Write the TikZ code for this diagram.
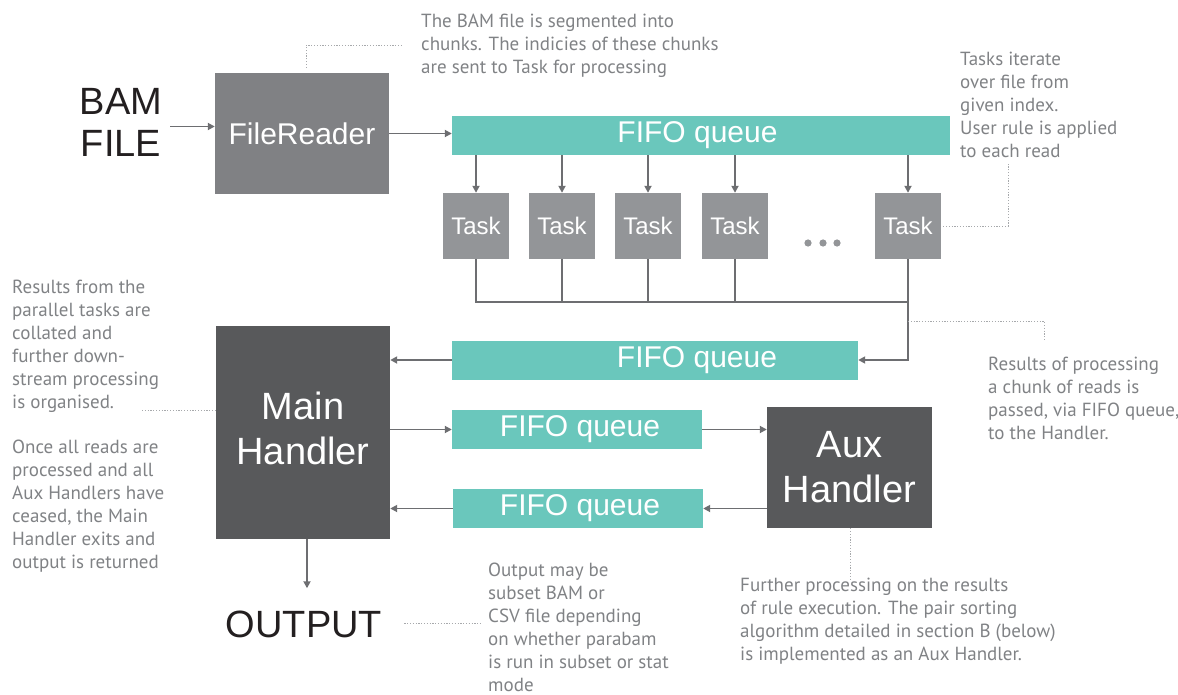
\documentclass[tikz,border=0pt]{standalone}
\usepackage{fontspec}
\usetikzlibrary{arrows.meta}
\newfontfamily\labelfont{Liberation Sans}
\newfontfamily\notefont{PT Sans}

\definecolor{teal}{HTML}{6AC7BC}
\definecolor{darkbox}{HTML}{58595B}
\definecolor{readerbox}{HTML}{808184}
\definecolor{taskbox}{HTML}{939598}
\definecolor{wire}{HTML}{6D6E71}
\definecolor{notegray}{HTML}{808285}
\definecolor{dotgray}{HTML}{A7A9AC}
\definecolor{ink}{HTML}{231F20}

\tikzset{
  box/.style={draw=none, inner sep=0pt, text=white, align=center},
  reader/.style={box, fill=readerbox, minimum width=174pt, minimum height=121pt,
    font=\labelfont\fontsize{30}{36}\selectfont},
  queue/.style={box, fill=teal, minimum height=39pt,
    font=\labelfont\fontsize{30}{36}\selectfont},
  taskbox/.style={box, fill=taskbox, minimum width=66pt, minimum height=66pt,
    font=\labelfont\fontsize{24}{28}\selectfont},
  handler/.style={box, fill=darkbox, font=\labelfont\fontsize{38}{45}\selectfont},
  bigword/.style={inner sep=0pt, text=ink, align=center,
    font=\labelfont\fontsize{38}{42}\selectfont},
  % multi-line notes are anchored at the baseline of their last line
  note/.style={inner sep=0pt, text=notegray, align=left, anchor=base west,
    font=\notefont\fontsize{19}{23}\selectfont},
  wireline/.style={draw=wire, line width=1.8pt},
  arr/.style={wireline, -{Triangle[length=7pt,width=7pt]}},
  leader/.style={draw=dotgray, line width=0.9pt, dash pattern=on 1.2pt off 1.6pt}
}

\begin{document}
\begin{tikzpicture}[x=1pt, y=-1pt]
\useasboundingbox (0,0) rectangle (1178,695);

% input and file reader
\node[bigword, anchor=base] (bam) at (121,157) {BAM\\FILE};
\node[reader] (fr) at (302,133.5) {FileReader};

% task queue and workers
\node[queue, minimum width=498pt] (q1) at (701,135.5) {\hspace*{-7pt}FIFO queue};
\node[taskbox] (t1) at (476,226) {Task};
\node[taskbox] (t2) at (562,226) {Task};
\node[taskbox] (t3) at (648,226) {Task};
\node[taskbox] (t4) at (735,226) {Task};
\node[taskbox] (t5) at (908,226) {Task};
\foreach \cx in {808,823,837}
  \fill[taskbox] (\cx,243) circle (3.6pt);

% results queue and handlers
\node[queue, minimum width=406pt] (q2) at (655,360) {\hspace*{84pt}FIFO queue};
\node[handler, minimum width=174pt, minimum height=213pt] (mh) at (303,432.5) {\begin{tabular}{@{}c@{}}Main\\Handler\end{tabular}};
\node[queue, minimum width=250pt] (q3) at (577,429.5) {\hspace*{6pt}FIFO queue};
\node[queue, minimum width=250pt] (q4) at (578,508.5) {\hspace*{4pt}FIFO queue};
\node[handler, minimum width=165pt, minimum height=121pt] (aux) at (849.5,467.5) {Aux\\Handler};
\node[bigword, anchor=base] (out) at (304,637) {OUTPUT};

% notes
\node[note] (n1) at (421,74) {The BAM file is segmented into\\chunks. The indicies of these chunks\\are sent to Task for processing};
\node[note] (n2) at (960,158) {Tasks iterate\\over file from\\given index.\\User rule is applied\\to each read};
\node[note] (n3) at (12,408) {Results from the\\parallel tasks are\\collated and\\further down-\\stream processing\\is organised.};
\node[note] (n4) at (12,568) {Once all reads are\\processed and all\\Aux Handlers have\\ceased, the Main\\Handler exits and\\output is returned};
\node[note] (n5) at (988,439) {Results of processing\\a chunk of reads is\\passed, via FIFO queue,\\to the Handler.};
\node[note] (n6) at (488,691) {Output may be\\subset BAM or\\CSV file depending\\on whether parabam\\is run in subset or stat\\mode};
\node[note] (n7) at (740,660) {Further processing on the results\\of rule execution. The pair sorting\\algorithm detailed in section B (below)\\is implemented as an Aux Handler.};

% data flow
\draw[arr] ([xshift=8pt,yshift=7pt]bam.east |- fr.west) -- ([yshift=7pt]fr.west);
\draw[arr] (fr.east) -- (fr.east -| q1.west);
\foreach \t in {t1,t2,t3,t4,t5}
  \draw[arr] (q1.south -| \t.north) -- (\t.north);
\coordinate (busR) at (908,302);
\draw[wireline] (t1.south) |- (busR);
\foreach \t in {t2,t3,t4}
  \draw[wireline] (\t.south) -- (\t.south |- busR);
\draw[arr] (t5.south) |- (q2.east);
\draw[arr] (q2.west) -- (q2.west -| mh.east);
\draw[arr] (mh.east |- q3.west) -- (q3.west);
\draw[arr] (q3.east) -- (q3.east -| aux.west);
\draw[arr] (aux.west |- q4.east) -- (q4.east);
\draw[arr] (q4.west) -- (q4.west -| mh.east);
\draw[arr] ([xshift=4pt]mh.south) -- ([xshift=3pt,yshift=22pt]out.north);

% leader lines to the notes
\coordinate (l1) at (401,45);
\draw[leader] ([xshift=4pt,yshift=5pt]fr.north) |- (l1);
\coordinate (l2) at (1008,163);
\draw[leader] ([xshift=2pt]t5.east) -| (l2);
\coordinate (l3) at (142,410);
\draw[leader] (l3) -- (l3 -| mh.west);
\coordinate (l5a) at (908,321);
\coordinate (l5) at (1044,340);
\draw[leader] (l5a) -| (l5);
\coordinate (l6) at (480,623);
\draw[leader] ([xshift=22pt]out.east |- l6) -- (l6);
\coordinate (l7) at (850,580);
\draw[leader] (aux.south -| l7) -- (l7);
\end{tikzpicture}
\end{document}
